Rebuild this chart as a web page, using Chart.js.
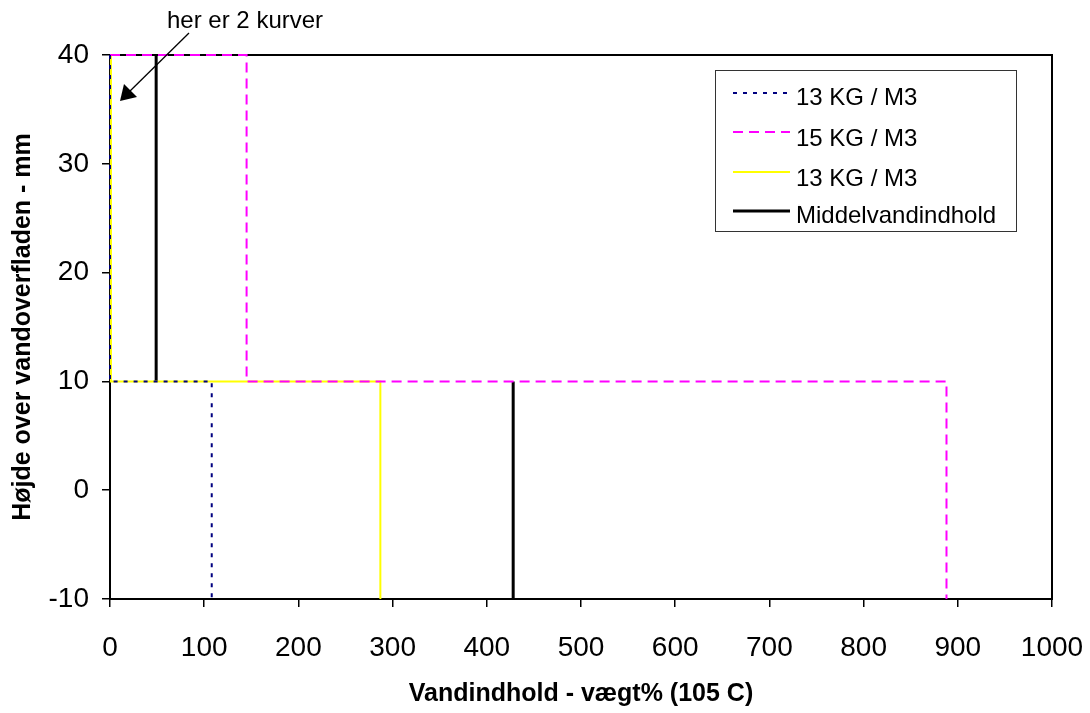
<!DOCTYPE html>
<html>
<head>
<meta charset="utf-8">
<script src="https://cdn.jsdelivr.net/npm/chart.js@4/dist/chart.umd.min.js"></script>
<style>
  body { margin: 0; background: #fff; }
  #wrap { width: 1090px; height: 713px; }
</style>
</head>
<body>
<div id="wrap"><canvas id="profileChart" width="1090" height="713"></canvas></div>
<script>
// step profiles: water content (x) against height above water surface (y)
var seriesNames = ['13 KG / M3', '15 KG / M3', '13 KG / M3', 'Middelvandindhold'];

var navyX = [0, 0, 108, 108];
var navyY = [40, 10, 10, -10];

var magentaX = [0, 145, 145, 888, 888];
var magentaY = [40, 40, 10, 10, -10];

var yellowX = [1, 1, 287, 287];
var yellowY = [40, 10, 10, -10];

// mean: two separate vertical pieces (null = gap)
var meanX = [49, 49, 49, 428, 428];
var meanY = [40, 10, null, 10, -10];

var xTicks = [0, 100, 200, 300, 400, 500, 600, 700, 800, 900, 1000];
var yTicks = [-10, 0, 10, 20, 30, 40];

var annotationText = 'her er 2 kurver';

function pts(xs, ys) {
  return xs.map(function (x, i) { return { x: x, y: ys[i] }; });
}

var FONT = "'Liberation Sans', Arial, sans-serif";

var framePlugin = {
  id: 'frame',
  beforeDatasetsDraw: function (chart) {
    var a = chart.chartArea, ctx = chart.ctx;
    ctx.save();
    ctx.strokeStyle = '#000';
    ctx.lineWidth = 2;
    ctx.strokeRect(a.left, a.top, a.right - a.left, a.bottom - a.top);
    ctx.restore();
  }
};

var boxLegend = {
  id: 'boxLegend',
  afterDraw: function (chart) {
    var ctx = chart.ctx;
    ctx.save();
    ctx.strokeStyle = '#333';
    ctx.lineWidth = 1;
    ctx.strokeRect(715.5, 70.5, 301, 161);
    ctx.font = '24px ' + FONT;
    ctx.textBaseline = 'alphabetic';
    ctx.fillStyle = '#000';
    var lineRows = [93, 132, 172, 211];
    var textRows = [105, 146, 186, 223];
    chart.data.datasets.forEach(function (ds, i) {
      ctx.beginPath();
      ctx.strokeStyle = ds.borderColor;
      ctx.lineWidth = ds.borderWidth;
      ctx.setLineDash(ds.borderDash || []);
      ctx.moveTo(733, lineRows[i]);
      ctx.lineTo(790, lineRows[i]);
      ctx.stroke();
      ctx.setLineDash([]);
      ctx.fillText(seriesNames[i], 796, textRows[i]);
    });
    ctx.restore();
  }
};

var arrowNote = {
  id: 'arrowNote',
  afterDraw: function (chart) {
    var ctx = chart.ctx;
    ctx.save();
    ctx.fillStyle = '#000';
    ctx.font = '24px ' + FONT;
    ctx.textBaseline = 'alphabetic';
    ctx.fillText(annotationText, 167, 28);
    ctx.strokeStyle = '#000';
    ctx.lineWidth = 1.3;
    ctx.beginPath();
    ctx.moveTo(189, 33);
    ctx.lineTo(128, 93);
    ctx.stroke();
    // arrow head
    ctx.beginPath();
    ctx.moveTo(120, 101);
    ctx.lineTo(124, 84);
    ctx.lineTo(137, 97);
    ctx.closePath();
    ctx.fill();
    ctx.restore();
  }
};

var chart = new Chart('profileChart', {
  type: 'scatter',
  data: {
    datasets: [{
      data: pts(navyX, navyY),
      borderColor: '#000080',
      borderWidth: 2,
      borderDash: [4, 6],
      showLine: true,
      pointRadius: 0,
      clip: false
    }, {
      data: pts(magentaX, magentaY),
      borderColor: '#ff00ff',
      borderWidth: 2,
      borderDash: [10, 6],
      showLine: true,
      pointRadius: 0,
      clip: false
    }, {
      data: pts(yellowX, yellowY),
      borderColor: '#ffff00',
      borderWidth: 2,
      showLine: true,
      pointRadius: 0,
      clip: false
    }, {
      data: pts(meanX, meanY),
      borderColor: '#000000',
      borderWidth: 3,
      showLine: true,
      spanGaps: false,
      pointRadius: 0,
      clip: false
    }]
  },
  options: {
    responsive: false,
    animation: false,
    layout: { padding: { top: 55, right: 38, left: 0, bottom: 0 } },
    plugins: {
      legend: { display: false },
      tooltip: { enabled: false }
    },
    scales: {
      x: {
        type: 'linear',
        min: xTicks[0],
        max: xTicks[xTicks.length - 1],
        afterBuildTicks: function (s) { s.ticks = xTicks.map(function (v) { return { value: v }; }); },
        afterFit: function (s) {
          s.height = 114;
          s.paddingLeft = 0;
          s.paddingRight = 0;
        },
        grid: { drawOnChartArea: false, tickLength: 8, color: '#000', lineWidth: 1.5 },
        border: { display: true, color: '#000', width: 2 },
        ticks: {
          color: '#000',
          font: { family: FONT, size: 28 },
          padding: 24,
          maxRotation: 0,
          callback: function (v) { return String(v); }
        },
        title: {
          display: true,
          text: 'Vandindhold - vægt% (105 C)',
          color: '#000',
          font: { family: FONT, size: 25, weight: 'bold' },
          padding: { top: 2, bottom: 4 }
        }
      },
      y: {
        type: 'linear',
        min: yTicks[0],
        max: yTicks[yTicks.length - 1],
        afterBuildTicks: function (s) { s.ticks = yTicks.map(function (v) { return { value: v }; }); },
        afterFit: function (s) {
          s.width = 110;
          s.paddingTop = 0;
          s.paddingBottom = 0;
        },
        grid: { drawOnChartArea: false, tickLength: 8, color: '#000', lineWidth: 1.5 },
        border: { display: true, color: '#000', width: 2 },
        ticks: {
          color: '#000',
          font: { family: FONT, size: 28 },
          padding: 13,
          callback: function (v) { return String(v); }
        },
        title: {
          display: true,
          text: 'Højde over vandoverfladen - mm',
          color: '#000',
          font: { family: FONT, size: 25, weight: 'bold' },
          padding: { top: 8, bottom: 2 }
        }
      }
    }
  },
  plugins: [framePlugin, boxLegend, arrowNote]
});
</script>
</body>
</html>
